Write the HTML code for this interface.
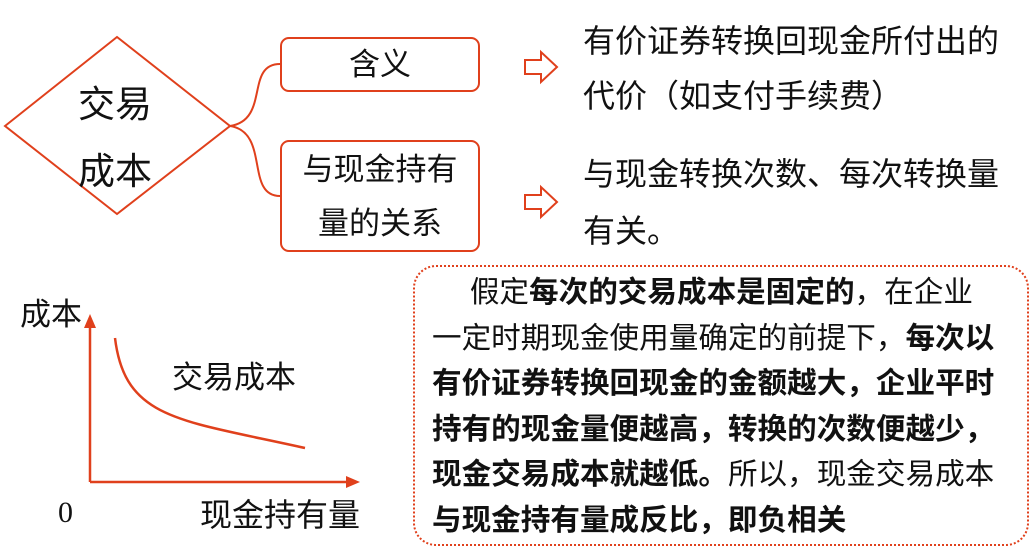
<!DOCTYPE html>
<html><head><meta charset="utf-8"><style>
body{margin:0;width:1035px;height:557px;background:#fff;position:relative;overflow:hidden;font-family:"Liberation Sans","Noto Sans CJK SC",sans-serif;color:#111}
.t{position:absolute;white-space:nowrap}
.box{position:absolute;border:2px solid #e0401c;border-radius:9px;box-sizing:border-box;text-align:center;font-size:31px;}
.p{position:absolute;left:432px;font-size:29.6px;white-space:nowrap;line-height:45.5px}
b{font-weight:bold}
</style></head><body>
<svg width="1035" height="557" style="position:absolute;left:0;top:0">
<polygon points="5,126 117,37 230,126 117,214" fill="none" stroke="#e0401c" stroke-width="2"/>
<path d="M230,126 C270,120 245,64 280,64" fill="none" stroke="#e0401c" stroke-width="2"/>
<path d="M230,126 C270,132 245,196 280,196" fill="none" stroke="#e0401c" stroke-width="2"/>
<g fill="none" stroke="#e0401c" stroke-width="2">
<polygon points="525,60 541,60 541,52 557,67 541,82 541,74 525,74"/>
<polygon points="525,195 541,195 541,187 557,202 541,217 541,209 525,209"/>
</g>
<rect x="414" y="266" width="614" height="279" rx="22" fill="none" stroke="#e0401c" stroke-width="2" stroke-dasharray="2,2"/>
<g stroke="#e0401c" stroke-width="2.5" fill="none">
<line x1="90" y1="482" x2="90" y2="322"/>
<line x1="90" y1="482" x2="350" y2="482"/>
<path d="M115,338 C125,420 180,420 305,448"/>
</g>
<polygon points="90,314 84,328 96,328" fill="#e0401c"/>
<polygon points="360,482 346,476 346,488" fill="#e0401c"/>
</svg>
<div class="t" style="left:78px;top:74px;font-size:37px">交易</div>
<div class="t" style="left:78px;top:141px;font-size:37px">成本</div>
<div class="box" style="left:280px;top:37px;width:200px;height:55px;line-height:51px">含义</div>
<div class="box" style="left:280px;top:140px;width:200px;height:112px;line-height:54px;padding-top:1px">与现金持有<br>量的关系</div>
<div class="t" style="left:583px;top:14px;font-size:32px;line-height:55px">有价证券转换回现金所付出的<br>代价（如支付手续费）</div>
<div class="t" style="left:583px;top:146px;font-size:32px;line-height:57px">与现金转换次数、每次转换量<br>有关。</div>
<div class="t" style="left:20px;top:289px;font-size:31px">成本</div>
<div class="t" style="left:172px;top:352px;font-size:31px">交易成本</div>
<div class="t" style="left:58px;top:496px;font-size:30px;font-family:'Liberation Serif',serif">0</div>
<div class="t" style="left:200px;top:490px;font-size:32px">现金持有量</div>
<div class="p" style="top:270px">&emsp;&nbsp;假定<b>每次的交易成本是固定的</b>，在企业<br>一定时期现金使用量确定的前提下，<b>每次以</b><br><b>有价证券转换回现金的金额越大，企业平时</b><br><b>持有的现金量便越高，转换的次数便越少，</b><br><b>现金交易成本就越低。</b>所以，现金交易成本<br><b>与现金持有量成反比，即负相关</b></div>
</body></html>
